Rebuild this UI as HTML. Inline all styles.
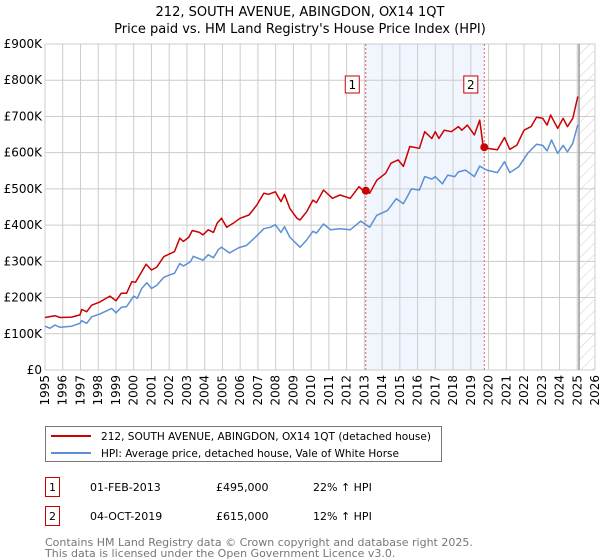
<!DOCTYPE html>
<html><head><meta charset="utf-8"><style>
body{margin:0;background:#fff;font-family:"Liberation Sans","DejaVu Sans",sans-serif}
#wrap{position:relative;width:600px;height:560px;overflow:hidden}
svg text{font-family:"DejaVu Sans","Liberation Sans",sans-serif}
</style></head><body>
<div id="wrap">
<svg id="chart" width="600" height="560"></svg>
</div>
<script>
const redYears=[1995,1995.56,1995.85,1996.5,1996.97,1997.07,1997.35,1997.63,1998.1,1998.66,1999,1999.3,1999.6,1999.9,2000.1,2000.4,2000.7,2001,2001.3,2001.7,2002,2002.3,2002.6,2002.8,2003.1,2003.3,2003.7,2003.9,2004.2,2004.5,2004.7,2004.95,2005.24,2005.6,2006,2006.5,2006.95,2007.33,2007.6,2007.98,2008.3,2008.5,2008.8,2009.2,2009.37,2009.75,2010.1,2010.3,2010.7,2011.2,2011.63,2012.2,2012.7,2013.0,2013.3,2013.7,2014.2,2014.5,2014.9,2015.2,2015.56,2016.1,2016.4,2016.8,2017,2017.2,2017.5,2017.9,2018.3,2018.5,2018.8,2019.2,2019.5,2019.7,2019.9,2020.5,2020.9,2021.2,2021.6,2022,2022.4,2022.7,2023.05,2023.3,2023.5,2023.9,2024.2,2024.45,2024.75,2025.03];
const redValues=[145,150,145,146,152,167,161,179,188,204,191,212,212,244,242,267,292,276,284,313,320,327,364,355,366,385,380,373,387,380,405,419,394,405,419,428,456,488,485,492,465,485,446,419,414,437,469,462,497,474,483,474,506,492,488,524,543,571,580,562,617,612,658,639,658,639,662,658,672,662,676,649,690,617,612,608,642,609,621,662,672,698,695,676,704,667,695,672,695,755];
const hpiYears=[1995,1995.28,1995.56,1995.85,1996.5,1996.97,1997.07,1997.35,1997.63,1998.1,1998.76,1999,1999.3,1999.6,2000,2000.2,2000.45,2000.74,2001,2001.3,2001.7,2002,2002.3,2002.6,2002.8,2003.2,2003.36,2003.9,2004.2,2004.5,2004.77,2004.95,2005.4,2005.9,2006.36,2006.95,2007.33,2007.7,2007.98,2008.3,2008.5,2008.8,2009.37,2009.75,2010.1,2010.3,2010.7,2011.1,2011.63,2012.2,2012.8,2013.3,2013.7,2014.3,2014.8,2015.2,2015.66,2016.1,2016.4,2016.8,2017,2017.4,2017.7,2018.1,2018.3,2018.7,2019.2,2019.5,2019.9,2020.5,2020.9,2021.2,2021.7,2022.2,2022.7,2023.05,2023.3,2023.55,2023.9,2024.2,2024.45,2024.75,2025.03];
const hpiValues=[121,115,124,118,121,129,136,129,147,155,170,158,173,175,204,198,225,241,225,234,256,262,267,294,287,299,314,303,318,310,332,339,323,337,344,371,390,394,401,380,396,367,339,359,383,378,403,387,390,387,411,394,427,440,473,459,500,497,534,527,534,514,538,534,547,552,534,563,552,545,575,545,561,598,623,620,605,635,598,620,602,626,677];
const saleYears=[2013.08,2019.76];
const saleValues=[495,615];
const saleLabels=["1","2"];
const yTicks=[0,100,200,300,400,500,600,700,800,900];
const yTickLabels=["£0","£100K","£200K","£300K","£400K","£500K","£600K","£700K","£800K","£900K"];
const xTicks=[];for(let y=1995;y<=2026;y++)xTicks.push(y);

const L=45,R=595,T=44,B=370,X0=1995,X1=2026,YMAX=900;
const sx=v=>L+(v-X0)/(X1-X0)*(R-L);
const sy=v=>B-v/YMAX*(B-T);
const NS="http://www.w3.org/2000/svg";
const svg=document.getElementById('chart');
function mk(tag,attrs,parent){const e=document.createElementNS(NS,tag);for(const k in attrs)e.setAttribute(k,attrs[k]);(parent||svg).appendChild(e);return e;}
function txt(s,attrs,name){const e=mk('text',attrs);e.textContent=s;return e;}

txt("212, SOUTH AVENUE, ABINGDON, OX14 1QT",{x:300,y:16,'text-anchor':'middle','font-size':13},'chart-title');
txt("Price paid vs. HM Land Registry's House Price Index (HPI)",{x:300,y:33,'text-anchor':'middle','font-size':13},'chart-subtitle');

let sh=mk('rect',{x:sx(saleYears[0]),y:T,width:sx(saleYears[1])-sx(saleYears[0]),height:B-T,fill:'#eef3fc',opacity:0.8});

const defs=mk('defs',{});
const pat=mk('pattern',{id:'hatch',width:8,height:8,patternUnits:'userSpaceOnUse',patternTransform:'rotate(45)'},defs);
mk('line',{x1:0,y1:0,x2:0,y2:8,stroke:'#ccc','stroke-width':1},pat);
let ht=mk('rect',{x:sx(2025.1),y:T,width:R-sx(2025.1),height:B-T,fill:'url(#hatch)'});


const grid=mk('g',{});
yTicks.forEach(v=>mk('line',{x1:L,x2:R,y1:sy(v),y2:sy(v),stroke:'#ccc','stroke-width':1},grid));
xTicks.forEach(v=>mk('line',{x1:sx(v),x2:sx(v),y1:T,y2:B,stroke:'#ccc','stroke-width':1},grid));
mk('line',{x1:sx(2025.1),x2:sx(2025.1),y1:T,y2:B,stroke:'#999','stroke-width':1.5});

yTicks.forEach((v,i)=>{txt(yTickLabels[i],{x:L-3,y:sy(v)+4,'text-anchor':'end','font-size':12},'y-tick-label');});
xTicks.forEach(v=>{txt(String(v),{x:sx(v)+4,y:B+5,'text-anchor':'end','font-size':12,transform:`rotate(-90 ${sx(v)+4} ${B+5})`},'x-tick-label');});

saleYears.forEach((y,i)=>{
  const l=mk('line',{x1:sx(y),x2:sx(y),y1:T,y2:B,stroke:'#e06060','stroke-width':1,'stroke-dasharray':'2,2'});
  
});

function path(xs,ys,color,name){
  const d=xs.map((x,i)=>(i?'L':'M')+sx(x).toFixed(1)+','+sy(ys[i]).toFixed(1)).join('');
  const p=mk('path',{d:d,fill:'none',stroke:color,'stroke-width':1.5,'stroke-linejoin':'round'});
  
}
path(hpiYears,hpiValues,'#5b8fd6','hpi-line');
path(redYears,redValues,'#cc0000','price-paid-line');

saleYears.forEach((y,i)=>{
  const c=mk('circle',{cx:sx(y),cy:sy(saleValues[i]),r:4,fill:'#cc0000'});
  
  const bx=sx(y)-14;
  const r=mk('rect',{x:bx-6.5,y:76,width:14,height:17,fill:'#fff',stroke:'#cc0000','stroke-width':1});
  
  txt(saleLabels[i],{x:bx+0.5,y:89,'text-anchor':'middle','font-size':12},'sale-label');
});

const lg=mk('rect',{x:45.5,y:426.5,width:396,height:35,fill:'#fff',stroke:'#777','stroke-width':1});

mk('line',{x1:51,x2:91,y1:436,y2:436,stroke:'#cc0000','stroke-width':2});
mk('line',{x1:51,x2:91,y1:453,y2:453,stroke:'#5b8fd6','stroke-width':2});
txt("212, SOUTH AVENUE, ABINGDON, OX14 1QT (detached house)",{x:101,y:440,'font-size':10.5,textLength:330,lengthAdjust:'spacingAndGlyphs'},'legend-entry-price');
txt("HPI: Average price, detached house, Vale of White Horse",{x:101,y:457,'font-size':10.5,textLength:298,lengthAdjust:'spacingAndGlyphs'},'legend-entry-hpi');

const rows=[["1","01-FEB-2013","£495,000","22% ↑ HPI"],["2","04-OCT-2019","£615,000","12% ↑ HPI"]];
rows.forEach((r,i)=>{
  const cy=487+i*29;
  const b=mk('rect',{x:45.5,y:cy-9.5,width:14,height:19,fill:'#fff',stroke:'#cc0000','stroke-width':1});
  
  txt(r[0],{x:52.5,y:cy+4,'text-anchor':'middle','font-size':11},'table-index');
  txt(r[1],{x:90,y:cy+4,'font-size':11},'table-date');
  txt(r[2],{x:216,y:cy+4,'font-size':11},'table-price');
  txt(r[3],{x:313,y:cy+4,'font-size':11},'table-hpi-change');
});
txt("Contains HM Land Registry data © Crown copyright and database right 2025.",{x:45,y:546,'font-size':11,fill:'#777'},'footer-line-1');
txt("This data is licensed under the Open Government Licence v3.0.",{x:45,y:557,'font-size':11,fill:'#777'},'footer-line-2');
</script>
</body></html>
